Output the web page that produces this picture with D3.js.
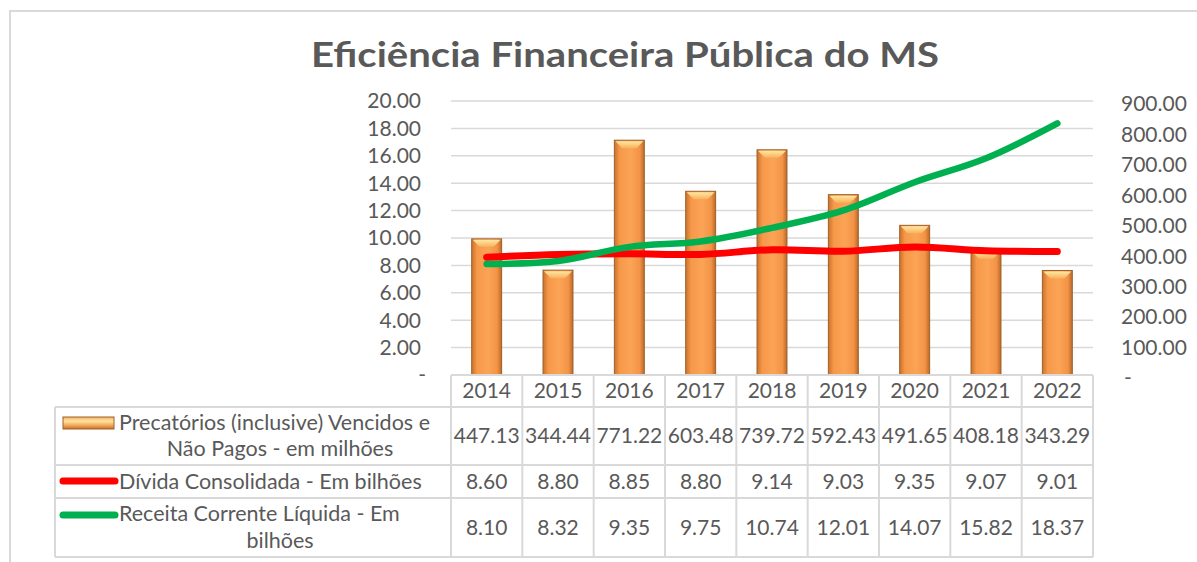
<!DOCTYPE html>
<html>
<head>
<meta charset="utf-8">
<script src="https://cdn.jsdelivr.net/npm/d3@7"></script>
<style>
  html, body { margin: 0; padding: 0; background: #fff; }
  svg { display: block; font-family: Lato, 'Open Sans', sans-serif; }
</style>
</head>
<body>
<svg id="chart" width="1197" height="562"></svg>
<script>
// values
var years = ['2014', '2015', '2016', '2017', '2018', '2019', '2020', '2021', '2022']
var precatorios = [447.13, 344.44, 771.22, 603.48, 739.72, 592.43, 491.65, 408.18, 343.29]
var divida = [8.60, 8.80, 8.85, 8.80, 9.14, 9.03, 9.35, 9.07, 9.01]
var receita = [8.10, 8.32, 9.35, 9.75, 10.74, 12.01, 14.07, 15.82, 18.37]
var leftTicks = [0, 2, 4, 6, 8, 10, 12, 14, 16, 18, 20]
var rightTicks = [0, 100, 200, 300, 400, 500, 600, 700, 800, 900]
var title = 'Eficiência Financeira Pública do MS'
var seriesLabels = [
  ['Precatórios (inclusive) Vencidos e', 'Não Pagos - em milhões'],
  ['Dívida Consolidada - Em bilhões'],
  ['Receita Corrente Líquida - Em', 'bilhões']
]

var svg = d3.select('#chart')
var textColor = '#595959'
var gridColor = '#d9d9d9'

var plot = {left: 451, right: 1093, top: 101, bottom: 375}
var rows = [375, 407, 465, 498, 557]
var tableLeft = 55

var x = d3.scaleBand().domain(years).range([plot.left, plot.right])
var yL = d3.scaleLinear().domain([0, 20]).range([plot.bottom, plot.top])
var yR = d3.scaleLinear().domain([0, 900]).range([plot.bottom, plot.top])
var fmt = d3.format('.2f')
var fmtTick = function(d) { return d === 0 ? '-' : fmt(d) }

// outer frame
svg.append('rect')
  .attr('x', 10).attr('y', 11)
  .attr('width', 1260).attr('height', 700)
  .attr('fill', '#fff')
  .attr('stroke', gridColor)
  .attr('stroke-width', 2)

// gradients for the bevelled bars
var defs = svg.append('defs')
var barGrad = defs.append('linearGradient').attr('id', 'barGrad')
  .attr('x1', '0%').attr('x2', '100%').attr('y1', '0%').attr('y2', '0%')
barGrad.append('stop').attr('offset', '0%').attr('stop-color', '#c9732c')
barGrad.append('stop').attr('offset', '18%').attr('stop-color', '#f7984a')
barGrad.append('stop').attr('offset', '55%').attr('stop-color', '#fba456')
barGrad.append('stop').attr('offset', '85%').attr('stop-color', '#f39346')
barGrad.append('stop').attr('offset', '100%').attr('stop-color', '#b96a2a')

var capGrad = defs.append('linearGradient').attr('id', 'capGrad')
  .attr('x1', '0%').attr('x2', '0%').attr('y1', '0%').attr('y2', '100%')
capGrad.append('stop').attr('offset', '0%').attr('stop-color', '#ffe7a0')
capGrad.append('stop').attr('offset', '100%').attr('stop-color', '#f7b25e')

var keyGrad = defs.append('linearGradient').attr('id', 'keyGrad')
  .attr('x1', '0%').attr('x2', '0%').attr('y1', '0%').attr('y2', '100%')
keyGrad.append('stop').attr('offset', '0%').attr('stop-color', '#f3b464')
keyGrad.append('stop').attr('offset', '35%').attr('stop-color', '#ffe3a0')
keyGrad.append('stop').attr('offset', '70%').attr('stop-color', '#f4a658')
keyGrad.append('stop').attr('offset', '100%').attr('stop-color', '#c06f2c')

// title
svg.append('text')
  .attr('x', 625)
  .attr('y', 67)
  .attr('text-anchor', 'middle')
  .attr('font-size', 34)
  .attr('font-weight', 'bold')
  .attr('fill', textColor)
  .attr('textLength', 628)
  .attr('lengthAdjust', 'spacingAndGlyphs')
  .text(title)

// gridlines
svg.append('g')
  .selectAll('line')
  .data(leftTicks.filter(function(d) { return d > 0 }))
  .enter().append('line')
  .attr('x1', plot.left).attr('x2', plot.right)
  .attr('y1', function(d) { return yL(d) })
  .attr('y2', function(d) { return yL(d) })
  .attr('stroke', gridColor)
  .attr('stroke-width', 1.5)

// left axis labels
svg.append('g')
  .selectAll('text')
  .data(leftTicks)
  .enter().append('text')
  .attr('x', function(d) { return d === 0 ? 426 : 421 })
  .attr('y', function(d) { return yL(d) })
  .attr('dy', '0.35em')
  .attr('text-anchor', 'end')
  .attr('font-size', 21)
  .attr('fill', textColor)
  .text(fmtTick)

// right axis labels
svg.append('g')
  .selectAll('text')
  .data(rightTicks)
  .enter().append('text')
  .attr('x', function(d) { return d === 0 ? 1124 : 1121 })
  .attr('y', function(d) { return yR(d) + 3 })
  .attr('dy', '0.35em')
  .attr('text-anchor', 'start')
  .attr('font-size', 21)
  .attr('fill', textColor)
  .text(fmtTick)

// bars (secondary axis)
var barW = x.bandwidth() * 0.42
var bevel = 8
var bars = svg.append('g')
  .selectAll('g')
  .data(precatorios)
  .enter().append('g')

bars.append('rect')
  .attr('x', function(d, i) { return x(years[i]) + (x.bandwidth() - barW) / 2 })
  .attr('y', function(d) { return yR(d) })
  .attr('width', barW)
  .attr('height', function(d) { return yR(0) - yR(d) })
  .attr('fill', 'url(#barGrad)')
  .attr('stroke', '#a0602a')
  .attr('stroke-width', 1)

bars.append('path')
  .attr('d', function(d, i) {
    var x0 = x(years[i]) + (x.bandwidth() - barW) / 2, y0 = yR(d)
    return 'M' + (x0 + 1) + ',' + (y0 + 1) + 'L' + (x0 + barW - 1) + ',' + (y0 + 1) +
      'L' + (x0 + barW - bevel) + ',' + (y0 + bevel) + 'L' + (x0 + bevel) + ',' + (y0 + bevel) + 'Z'
  })
  .attr('fill', 'url(#capGrad)')

// lines (primary axis)
var line = d3.line()
  .x(function(d, i) { return x(years[i]) + x.bandwidth() / 2 })
  .y(function(d) { return yL(d) })
  .curve(d3.curveCatmullRom.alpha(0.5))

svg.append('path')
  .datum(divida)
  .attr('d', line)
  .attr('fill', 'none')
  .attr('stroke', '#ff0000')
  .attr('stroke-width', 7)
  .attr('stroke-linecap', 'round')
  .attr('stroke-linejoin', 'round')

svg.append('path')
  .datum(receita)
  .attr('d', line)
  .attr('fill', 'none')
  .attr('stroke', '#00b050')
  .attr('stroke-width', 6.5)
  .attr('stroke-linecap', 'round')
  .attr('stroke-linejoin', 'round')

// data table
var table = svg.append('g')
  .attr('stroke', gridColor)
  .attr('stroke-width', 2)

table.append('line')
  .attr('x1', plot.left).attr('x2', plot.right)
  .attr('y1', rows[0]).attr('y2', rows[0])

table.selectAll('.hrow')
  .data(rows.slice(1))
  .enter().append('line')
  .attr('class', 'hrow')
  .attr('x1', tableLeft).attr('x2', plot.right)
  .attr('y1', function(d) { return d })
  .attr('y2', function(d) { return d })

table.selectAll('.vcol')
  .data(years.concat(['end']))
  .enter().append('line')
  .attr('class', 'vcol')
  .attr('x1', function(d, i) { return plot.left + i * x.step() })
  .attr('x2', function(d, i) { return plot.left + i * x.step() })
  .attr('y1', rows[0]).attr('y2', rows[4])

table.append('line')
  .attr('x1', tableLeft).attr('x2', tableLeft)
  .attr('y1', rows[1]).attr('y2', rows[4])

var cellText = svg.append('g')
  .attr('font-size', 21)
  .attr('fill', textColor)
  .attr('text-anchor', 'middle')

cellText.selectAll('.yr')
  .data(years)
  .enter().append('text')
  .attr('x', function(d) { return x(d) + x.bandwidth() / 2 })
  .attr('y', 398)
  .text(function(d) { return d })

var rowValues = [precatorios, divida, receita]
var rowBase = [443, 489, 535]
rowValues.forEach(function(vals, r) {
  cellText.selectAll('.v' + r)
    .data(vals)
    .enter().append('text')
    .attr('x', function(d, i) { return x(years[i]) + x.bandwidth() / 2 })
    .attr('y', rowBase[r])
    .text(function(d) { return fmt(d) })
})

// row labels with legend keys
var labelBase = [[430, 456], [489], [521, 548]]
seriesLabels.forEach(function(lines, r) {
  lines.forEach(function(t, k) {
    svg.append('text')
      .attr('x', k === 0 ? 119 : 280)
      .attr('y', labelBase[r][k])
      .attr('text-anchor', k === 0 ? 'start' : 'middle')
      .attr('font-size', 21.5)
      .attr('fill', textColor)
      .text(t)
  })
})

svg.append('rect')
  .attr('x', 63).attr('y', 417)
  .attr('width', 51).attr('height', 12)
  .attr('fill', 'url(#keyGrad)')
  .attr('stroke', '#a0602a')
  .attr('stroke-width', 1)

svg.append('line')
  .attr('x1', 63).attr('x2', 115)
  .attr('y1', 481).attr('y2', 481)
  .attr('stroke', '#ff0000')
  .attr('stroke-width', 7)
  .attr('stroke-linecap', 'round')

svg.append('line')
  .attr('x1', 63).attr('x2', 115)
  .attr('y1', 515).attr('y2', 515)
  .attr('stroke', '#00b050')
  .attr('stroke-width', 7)
  .attr('stroke-linecap', 'round')
</script>
</body>
</html>
